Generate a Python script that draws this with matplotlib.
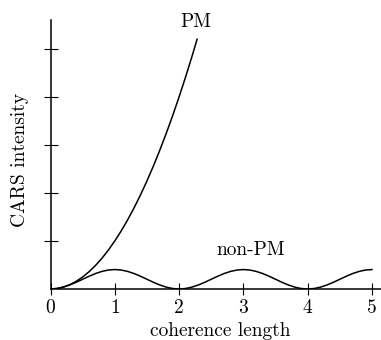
import matplotlib
matplotlib.use('Agg')
import matplotlib.pyplot as plt

# values (y in tick units)
x_non = [0.0, 0.1, 0.2, 0.3, 0.4, 0.5, 0.6, 0.7, 0.8, 0.9,
         1.0, 1.1, 1.2, 1.3, 1.4, 1.5, 1.6, 1.7, 1.8, 1.9,
         2.0, 2.1, 2.2, 2.3, 2.4, 2.5, 2.6, 2.7, 2.8, 2.9,
         3.0, 3.1, 3.2, 3.3, 3.4, 3.5, 3.6, 3.7, 3.8, 3.9,
         4.0, 4.1, 4.2, 4.3, 4.4, 4.5, 4.6, 4.7, 4.8, 4.9, 5.0]
y_non = [0.0, 0.010, 0.039, 0.084, 0.140, 0.203, 0.265, 0.322, 0.366, 0.395,
         0.405, 0.395, 0.366, 0.322, 0.265, 0.203, 0.140, 0.084, 0.039, 0.010,
         0.0, 0.010, 0.039, 0.084, 0.140, 0.203, 0.265, 0.322, 0.366, 0.395,
         0.405, 0.395, 0.366, 0.322, 0.265, 0.203, 0.140, 0.084, 0.039, 0.010,
         0.0, 0.010, 0.039, 0.084, 0.140, 0.203, 0.265, 0.322, 0.366, 0.395, 0.405]
x_pm = [0.0, 0.1, 0.2, 0.3, 0.4, 0.5, 0.6, 0.7, 0.8, 0.9, 1.0, 1.1,
        1.2, 1.3, 1.4, 1.5, 1.6, 1.7, 1.8, 1.9, 2.0, 2.1, 2.2, 2.28]
y_pm = [0.0, 0.01, 0.04, 0.09, 0.16, 0.25, 0.36, 0.49, 0.64, 0.81, 1.0, 1.21,
        1.44, 1.69, 1.96, 2.25, 2.56, 2.89, 3.24, 3.61, 4.0, 4.41, 4.84, 5.2]
xticks = [0, 1, 2, 3, 4, 5]
yticks = [1, 2, 3, 4, 5]

plt.rcParams['font.family'] = ['cmr10', 'DejaVu Serif']
plt.rcParams['axes.formatter.use_mathtext'] = True

fig = plt.figure(figsize=(3.81, 3.40), dpi=100)
ax = fig.add_axes([50.5/381, 51/340, 330.5/381, 269/340])

ax.plot(x_pm, y_pm, color='black', lw=1.1)
ax.plot(x_non, y_non, color='black', lw=1.1)

ax.set_xlim(0, 5.14)
ax.set_ylim(0, 5.6)
ax.spines['top'].set_visible(False)
ax.spines['right'].set_visible(False)
ax.spines['left'].set_linewidth(1.1)
ax.spines['bottom'].set_linewidth(1.1)

ax.set_xticks(xticks)
ax.set_xticklabels([str(t) for t in xticks])
ax.set_yticks(yticks)
ax.set_yticklabels([])
ax.tick_params(axis='x', direction='inout', length=8, width=0.8, pad=3, labelsize=14)
ax.tick_params(axis='y', direction='inout', length=9.5, width=0.8)

ax.text(2.265, 5.55, 'PM', ha='center', va='center', fontsize=14)
ax.text(3.12, 0.81, 'non-PM', ha='center', va='center', fontsize=14)

ax.set_xlabel('coherence length', fontsize=14)
ax.set_ylabel('CARS intensity', fontsize=14)
ax.xaxis.set_label_coords((220 - 50.5) / 330.5, -(331 - 289) / 269)
ax.yaxis.set_label_coords(-(50.5 - 20) / 330.5, (289 - 160) / 269)
for lab in [ax.xaxis.label, ax.yaxis.label]:
    lab.set_va('center')

fig.savefig('out.png', dpi=100)
